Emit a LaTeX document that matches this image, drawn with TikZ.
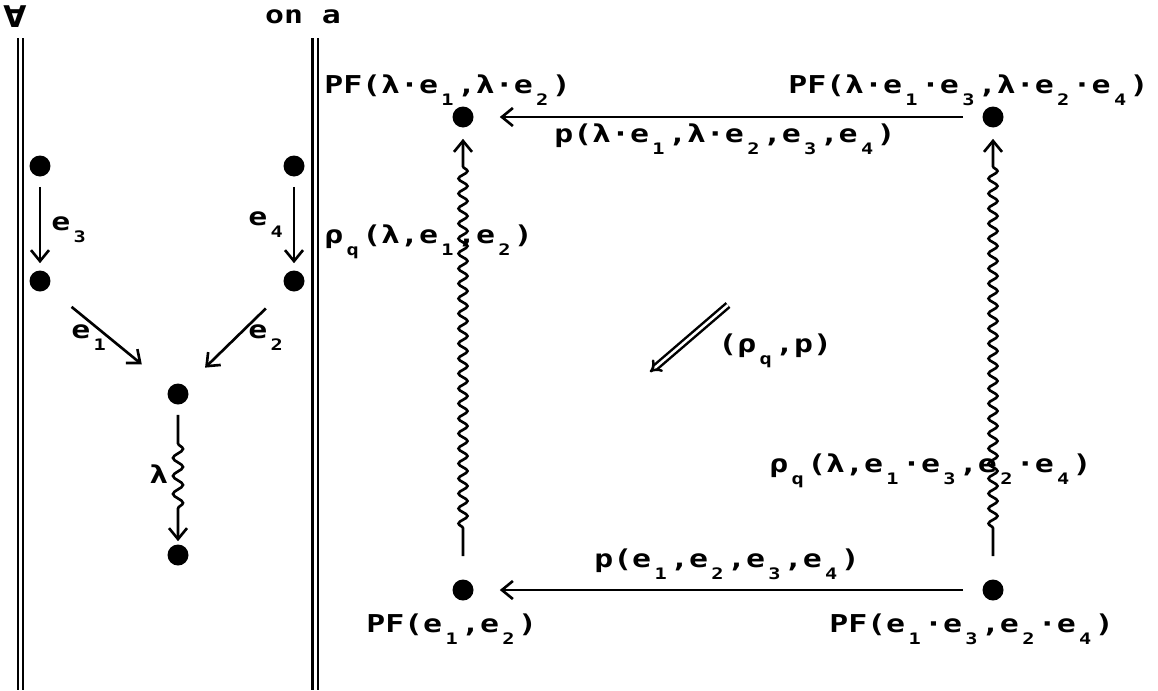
\documentclass[tikz,border=0pt]{standalone}
\usepackage{fontspec}
\setmonofont[FakeStretch=1.28]{DejaVu Sans Mono}
\newfontfamily\symfont{DejaVu Sans}
\usetikzlibrary{arrows.meta,decorations.pathmorphing}
% lowered index, one character cell wide
\newcommand\lo[1]{\makebox[10.8pt][c]{\raisebox{-7pt}{\fontsize{9}{9}\selectfont #1}}}

\begin{document}
\begin{tikzpicture}[x=0.02cm,y=-0.02cm,line width=1.5pt,
  font=\ttfamily\bfseries\fontsize{14}{16}\selectfont,
  vtx/.style={circle,fill,inner sep=0,minimum size=0.42cm},
  lbl/.style={anchor=base west,inner sep=0},
  arr/.style={-{Straight Barb[length=0.22cm,width=0.36cm]}},
  wavy/.style={arr,decorate,decoration={snake,amplitude=0.09cm,
    segment length=0.3cm,pre length=1cm,post length=0.66cm}},
  bar/.style={double,double distance=0.06cm,line width=0.05cm}]
  \useasboundingbox (0,0) rectangle (1158,690);

  % the two context bars
  \draw[bar] (20.5,38) -- (20.5,690);
  \draw[bar] (315,38) -- (315,690);
  \node (forall) at (15,17) {\symfont\bfseries\fontsize{17}{17}\selectfont ∀};
  \node (ona) at (303,17) {on a};

  % left: the edge diagram
  \node[vtx] (u3) at (40,166) {};
  \node[vtx] (u4) at (294,166) {};
  \node[vtx] (v1) at (40,281) {};
  \node[vtx] (v2) at (294,281) {};
  \node[vtx] (w) at (178,394) {};
  \node[vtx] (z) at (178,555) {};
  \draw[arr,shorten <=0.18cm,shorten >=0.12cm] (u3) -- (v1);
  \draw[arr,shorten <=0.18cm,shorten >=0.12cm] (u4) -- (v2);
  \draw[arr,shorten <=0.58cm,shorten >=0.7cm] (v1) -- (w);
  \draw[arr,shorten <=0.55cm,shorten >=0.52cm] (v2) -- (w);
  \draw[arr,decorate,decoration={snake,amplitude=0.1cm,segment length=0.36cm,
    pre length=0.75cm,post length=0.65cm},shorten <=0.18cm,shorten >=0.04cm] (w) -- (z);
  \node[lbl] (le3) at (50,230) {e\lo3};
  \node[lbl] (le4) at (247,225) {e\lo4};
  \node[lbl] (le1) at (70,338) {e\lo1};
  \node[lbl] (le2) at (247,338) {e\lo2};
  \node[lbl] (llam) at (148,483) {λ};

  % right: the square
  \node[vtx] (tl) at (463,117) {};
  \node[vtx] (tr) at (993,117) {};
  \node[vtx] (bl) at (463,590) {};
  \node[vtx] (br) at (993,590) {};
  \draw[arr,shorten <=0.36cm,shorten >=0.5cm] (tr) -- (tl);
  \draw[arr,shorten <=0.36cm,shorten >=0.5cm] (br) -- (bl);
  \draw[wavy,shorten <=0.44cm,shorten >=0.2cm] (bl) -- (tl);
  \draw[wavy,shorten <=0.44cm,shorten >=0.2cm] (br) -- (tr);
  \coordinate (dfrom) at (728,305);
  \coordinate (dto) at (650,372);
  \draw[double,double distance=0.05cm,line width=0.05cm,-{Implies[scale=1.3]}] (dfrom) -- (dto);

  \node[lbl] (pftl) at (323,93) {PF(λ·e\lo1,λ·e\lo2)};
  \node[lbl] (pftr) at (787,93) {PF(λ·e\lo1·e\lo3,λ·e\lo2·e\lo4)};
  \node[lbl] (ptop) at (553,142) {p(λ·e\lo1,λ·e\lo2,e\lo3,e\lo4)};
  \node[lbl] (rhol) at (323,243) {ρ\lo{q}(λ,e\lo1,e\lo2)};
  \node[lbl] (rhor) at (768,472) {ρ\lo{q}(λ,e\lo1·e\lo3,e\lo2·e\lo4)};
  \node[lbl] (pair) at (717,352) {(ρ\lo{q},p)};
  \node[lbl] (pbot) at (593,567) {p(e\lo1,e\lo2,e\lo3,e\lo4)};
  \node[lbl] (pfbl) at (365,632) {PF(e\lo1,e\lo2)};
  \node[lbl] (pfbr) at (828,632) {PF(e\lo1·e\lo3,e\lo2·e\lo4)};
\end{tikzpicture}
\end{document}
